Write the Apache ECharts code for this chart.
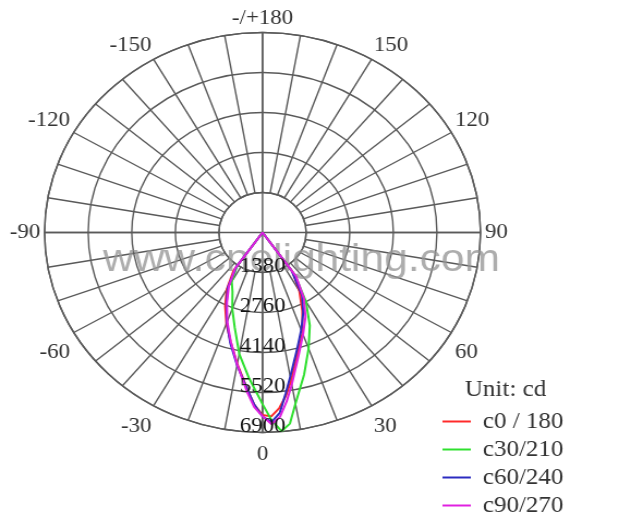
<!DOCTYPE html>
<html>
<head>
<meta charset="utf-8">
<script src="https://cdn.jsdelivr.net/npm/echarts@6/dist/echarts.min.js"></script>
<style>
  html, body { margin: 0; padding: 0; background: #fff; overflow: hidden; }
  #c { width: 568px; height: 516px; transform: scaleX(1.0898); transform-origin: 0 0; }
</style>
</head>
<body>
<div id="c"></div>
<script>
// Gamma angles (deg, 0 = nadir / bottom)
const angles = [-40, -35, -30, -25, -20, -15, -10, -5, -2.5, 0, 2.5, 5, 7.5, 10, 15, 20, 25, 30, 35, 40];
// Intensity values (cd)
const c0_180  = [0, 1600, 2270, 2800, 3350, 3900, 4600, 5450, 5950, 6300, 6350, 6080, 5680, 5200, 4300, 3700, 2980, 2330, 1650, 0];
const c30_210 = [0, 1400, 1950, 2250, 2800, 3400, 4250, 5020, 5430, 5920, 6470, 6880, 6650, 6000, 5080, 4260, 3540, 2750, 1800, 0];
const c60_240 = [0, 1450, 2200, 2700, 3300, 3950, 4650, 5450, 5950, 6350, 6550, 6250, 5600, 5050, 4200, 3580, 3050, 2500, 1600, 0];
const c90_270 = [0, 1500, 2130, 2665, 3265, 3890, 4625, 5540, 6030, 6340, 6620, 6380, 5870, 5330, 4400, 3750, 3215, 2615, 1850, 0];

const seriesNames = ['c0 / 180', 'c30/210', 'c60/240', 'c90/270'];
const seriesValues = [c0_180, c30_210, c60_240, c90_270];
const seriesColors = ['#ff2a2a', '#2fe02f', '#2b2bc0', '#e020e0'];

// radius ticks (cd)
const radiusTicks = [1380, 2760, 4140, 5520, 6900];
const radiusMax = 6900, radiusStep = 1380;
// angle tick labels
const angleLabels = { '-180': '-/+180', '-150': '-150', '-120': '-120', '-90': '-90', '-60': '-60', '-30': '-30',
  '0': '0', '30': '30', '60': '60', '90': '90', '120': '120', '150': '150' };

const chart = echarts.init(document.getElementById('c'));
const CENTER = [240.9, 232.5];
const R = 200;
const R0 = R * radiusTicks[0] / radiusMax;
const gridColor = '#5a5a5a';
const serif = '"Liberation Serif", "Times New Roman", serif';

const option = {
  backgroundColor: '#fff',
  animation: false,
  title: {
    text: 'Unit: cd',
    left: 426.5, top: 378, padding: 0,
    textStyle: { fontFamily: serif, fontSize: 23, fontWeight: 'normal', color: '#333', lineHeight: 23 }
  },
  legend: {
    orient: 'vertical',
    left: 406, top: 410, height: 130, width: 160, padding: 0,
    itemWidth: 26, itemHeight: 2, itemGap: 5,
    icon: 'rect',
    textStyle: { fontFamily: serif, fontSize: 23, color: '#333', lineHeight: 20, padding: [0, 0, 0, 6] },
    data: seriesNames
  },
  polar: [
    { center: CENTER, radius: [R0, R] },
    { center: CENTER, radius: [0, R] }
  ],
  angleAxis: [
    {
      polarIndex: 0, type: 'value', min: -180, max: 180, interval: 10,
      startAngle: 90, clockwise: false,
      axisLine: { show: true, lineStyle: { color: gridColor, width: 1.4 } },
      axisTick: { show: false },
      splitLine: { show: true, lineStyle: { color: gridColor, width: 1.4 } },
      axisLabel: {
        show: true, margin: 4, padding: [7, 0, 0, 0], fontFamily: serif, fontSize: 21, color: '#333',
        formatter: v => (angleLabels[String(v)] !== undefined ? angleLabels[String(v)] : '')
      }
    },
    {
      polarIndex: 1, type: 'value', min: 0, max: 360, interval: 90,
      startAngle: 270, clockwise: false,
      axisLine: { show: false }, axisTick: { show: false }, axisLabel: { show: false },
      splitLine: { show: true, lineStyle: { color: gridColor, width: 1.4 } }
    }
  ],
  radiusAxis: [
    {
      polarIndex: 0, type: 'value', min: radiusTicks[0], max: radiusMax, interval: radiusStep,
      axisLine: { show: false }, axisTick: { show: false }, axisLabel: { show: false },
      splitLine: { show: true, lineStyle: { color: gridColor, width: 1.4 } }
    },
    {
      polarIndex: 1, type: 'value', min: 0, max: radiusMax, interval: radiusStep,
      axisLine: { show: false }, axisTick: { show: false }, splitLine: { show: false },
      axisLabel: {
        show: true, margin: 0, align: 'center', verticalAlign: 'bottom', lineHeight: 13,
        fontFamily: serif, fontSize: 21, color: '#111',
        formatter: v => (v === 0 ? '' : String(v))
      },
      z: 5
    }
  ],
  series: seriesNames.map((name, k) => ({
    name: name,
    type: 'line',
    coordinateSystem: 'polar',
    polarIndex: 1,
    showSymbol: false,
    symbol: 'none',
    color: seriesColors[k],
    lineStyle: { width: 2, color: seriesColors[k] },
    data: angles.map((a, i) => [seriesValues[k][i], (a + 360) % 360]),
    z: 3
  })),
  graphic: [{
    type: 'text',
    x: 276.6, y: 260.5,
    z: 1,
    silent: true,
    style: {
      text: 'www.cnelighting.com',
      font: '39px "Liberation Sans", Arial, sans-serif',
      fill: 'rgba(150,150,150,0.78)',
      align: 'center', verticalAlign: 'middle',
      textAlign: 'center', textVerticalAlign: 'middle'
    }
  }]
};
chart.setOption(option);
</script>
</body>
</html>
